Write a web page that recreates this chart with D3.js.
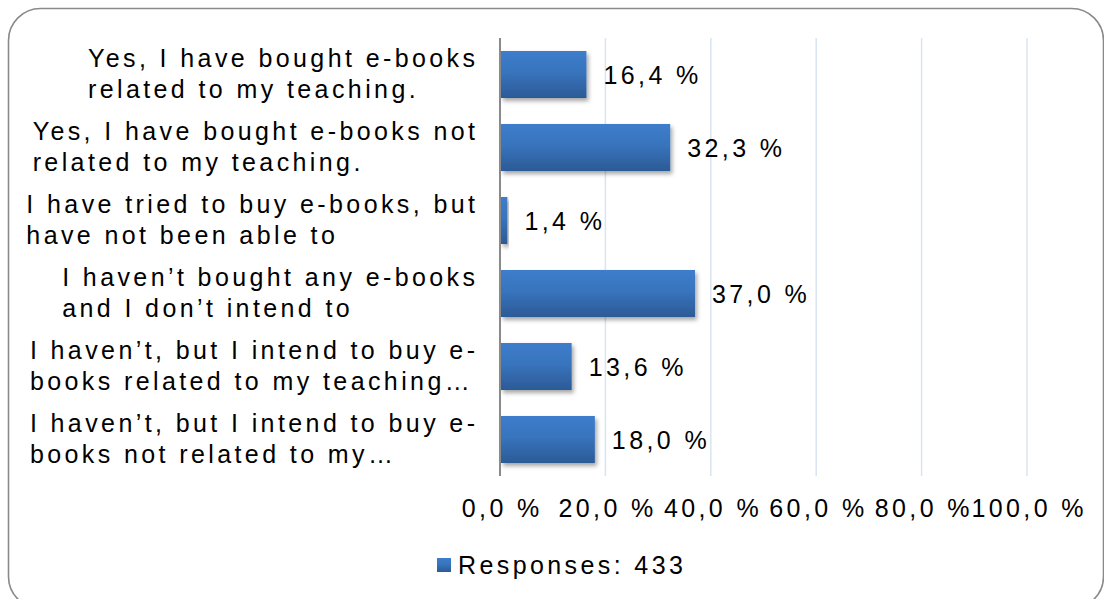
<!DOCTYPE html>
<html>
<head>
<meta charset="utf-8">
<script src="https://cdn.jsdelivr.net/npm/d3@7"></script>
<style>
  body { margin: 0; background: #fff; }
  text { font-family: "Liberation Sans", Arial, sans-serif; fill: #000; }
</style>
</head>
<body>
<div id="chart"></div>
<script>
// survey answers, each label split in two lines as in the picture
var categories = [
  ["Yes, I have bought e-books", "related to my teaching."],
  ["Yes, I have bought e-books not", "related to my teaching."],
  ["I have tried to buy e-books, but", "have not been able to"],
  ["I haven\u2019t bought any e-books", "and I don\u2019t intend to"],
  ["I haven\u2019t, but I intend to buy e-", "books related to my teaching\u2026"],
  ["I haven\u2019t, but I intend to buy e-", "books not related to my\u2026"]
];
var values = [16.4, 32.3, 1.4, 37.0, 13.6, 18.0];
var ticks = [0, 20, 40, 60, 80, 100];
var seriesName = "Responses: 433";

var W = 1104, H = 599;
var margin = {top: 38, left: 500, right: 77, bottom: 123};
var width = W - margin.left - margin.right,
    height = H - margin.top - margin.bottom;

var fontSize = 25, spacing = 3.4;

var svg = d3.select("#chart").append("svg")
  .attr("width", W)
  .attr("height", H);

var defs = svg.append("defs");
var grad = defs.append("linearGradient")
  .attr("id", "barGrad")
  .attr("x1", 0).attr("y1", 0).attr("x2", 0).attr("y2", 1);
grad.append("stop").attr("offset", "0%").attr("stop-color", "#3d7dcb");
grad.append("stop").attr("offset", "45%").attr("stop-color", "#3874bd");
grad.append("stop").attr("offset", "100%").attr("stop-color", "#2c5a96");

var shadow = defs.append("filter")
  .attr("id", "shadow")
  .attr("x", "-10%").attr("y", "-20%")
  .attr("width", "130%").attr("height", "160%");
shadow.append("feDropShadow")
  .attr("dx", 2).attr("dy", 3)
  .attr("stdDeviation", 2)
  .attr("flood-color", "#000")
  .attr("flood-opacity", 0.35);

// outer rounded frame
svg.append("rect")
  .attr("x", 8.5).attr("y", 8.5)
  .attr("width", 1095).attr("height", 600)
  .attr("rx", 32).attr("ry", 32)
  .attr("fill", "#fff")
  .attr("stroke", "#8a8a8a")
  .attr("stroke-width", 1.6);

var g = svg.append("g")
  .attr("transform", "translate(" + margin.left + "," + margin.top + ")");

var x = d3.scaleLinear()
  .domain([0, 100])
  .range([0, width]);

var y = d3.scaleBand()
  .domain(d3.range(categories.length))
  .range([0, height])
  .paddingInner(0.356)
  .paddingOuter(0.178);

// gridlines
g.append("g")
  .selectAll("line")
  .data(ticks.slice(1))
  .enter()
  .append("line")
    .attr("x1", function(d) { return x(d); })
    .attr("x2", function(d) { return x(d); })
    .attr("y1", 0)
    .attr("y2", height)
    .attr("stroke", "#dae4f1")
    .attr("stroke-width", 1.5);

// x tick labels
var xAxis = g.append("g")
  .attr("transform", "translate(0," + height + ")")
  .call(d3.axisBottom(x)
    .tickValues(ticks)
    .tickSize(0)
    .tickPadding(23)
    .tickFormat(function(d) { return d.toFixed(1).replace(".", ",") + " %"; }));
xAxis.select(".domain").remove();
xAxis.selectAll("text")
  .style("font-size", fontSize + "px")
  .style("letter-spacing", spacing + "px")
  .style("font-family", "'Liberation Sans', Arial, sans-serif")
  .attr("fill", "#000")
  .attr("dx", spacing / 2);

// bars
g.selectAll("rect.bar")
  .data(values)
  .enter()
  .append("rect")
    .attr("class", "bar")
    .attr("x", x(0) + 1)
    .attr("y", function(d, i) { return y(i); })
    .attr("width", function(d) { return x(d) - x(0) - 1; })
    .attr("height", y.bandwidth())
    .attr("fill", "url(#barGrad)")
    .attr("filter", "url(#shadow)");

// vertical axis line
g.append("line")
  .attr("x1", 0).attr("x2", 0)
  .attr("y1", 0).attr("y2", height)
  .attr("stroke", "#8a8a8a")
  .attr("stroke-width", 2);

// value labels
g.selectAll("text.val")
  .data(values)
  .enter()
  .append("text")
    .attr("class", "val")
    .attr("x", function(d) { return x(d) + 17; })
    .attr("y", function(d, i) { return y(i) + y.bandwidth() / 2; })
    .attr("dy", "0.36em")
    .style("font-size", fontSize + "px")
    .style("letter-spacing", spacing + "px")
    .text(function(d) { return d.toFixed(1).replace(".", ",") + " %"; });

// category labels: block of two lines, left aligned, block right edge at axis - 25
var labelRight = -25;
categories.forEach(function(lines, i) {
  var cy = y(i) + y.bandwidth() / 2;
  var t = g.append("text")
    .style("font-size", fontSize + "px")
    .style("letter-spacing", spacing + "px");
  lines.forEach(function(line, j) {
    t.append("tspan")
      .attr("x", 0)
      .attr("y", cy + (j - 0.5) * 31 - 1)
      .attr("dy", "0.36em")
      .text(line);
  });
  var maxW = 0;
  t.selectAll("tspan").each(function() {
    maxW = Math.max(maxW, this.getComputedTextLength());
  });
  t.selectAll("tspan").attr("x", labelRight - maxW + spacing);
});

// legend
var legend = svg.append("g")
  .attr("transform", "translate(437,565)");
legend.append("rect")
  .attr("x", 0).attr("y", -7)
  .attr("width", 14).attr("height", 14)
  .attr("fill", "url(#barGrad)");
legend.append("text")
  .attr("x", 21)
  .attr("dy", "0.36em")
  .style("font-size", fontSize + "px")
  .style("letter-spacing", spacing + "px")
  .text(seriesName);
</script>
</body>
</html>
